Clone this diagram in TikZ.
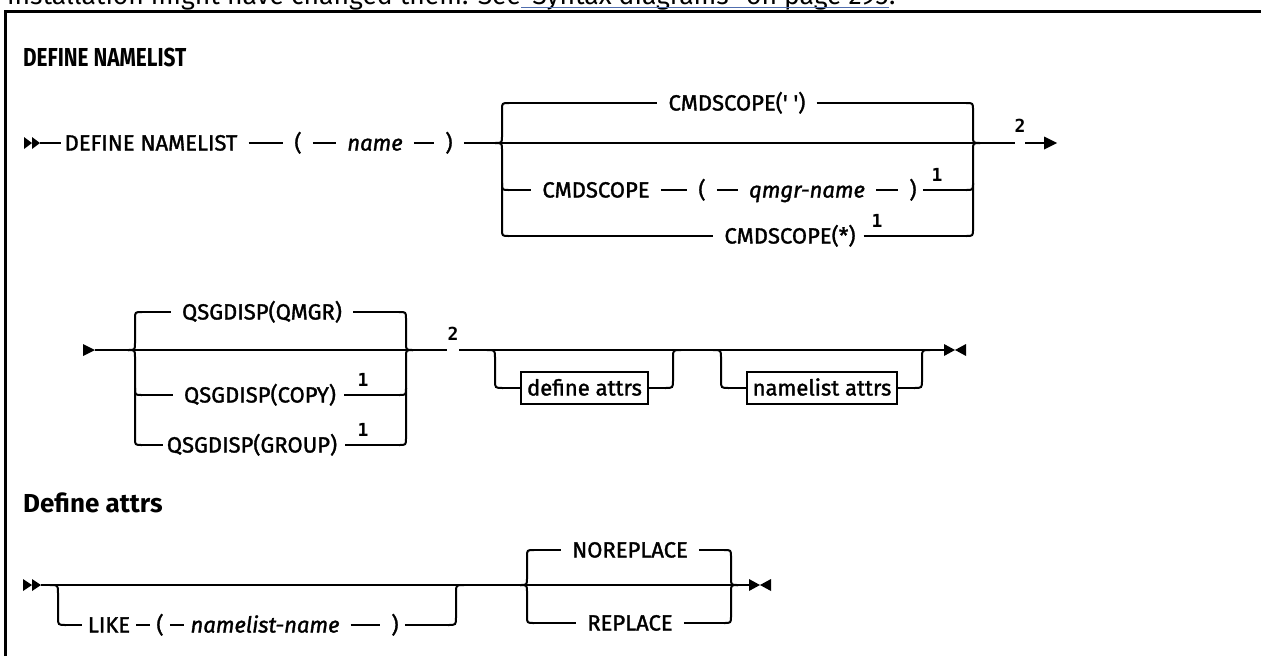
\documentclass[tikz,border=0pt]{standalone}
\usepackage{fontspec}
\setmainfont{Fira Sans}
\newfontfamily\diagfont{Fira Sans}[FakeBold=1.5]
\newfontfamily\notefont{DejaVu Sans Mono}
\definecolor{linkblue}{RGB}{80,110,175}
% left brace: cusp x, rail y, top y, bottom y
\newcommand\railLB[4]{%
 \draw[rail] (#1,#2) .. controls ({#1+7},#2) .. ({#1+7},{#2-7}) -- ({#1+7},{#3+7}) .. controls ({#1+7},#3) .. ({#1+14},#3);
 \draw[rail] (#1,#2) .. controls ({#1+7},#2) .. ({#1+7},{#2+7}) -- ({#1+7},{#4-7}) .. controls ({#1+7},#4) .. ({#1+14},#4);}
\newcommand\railRB[4]{%
 \draw[rail] ({#1-14},#3) .. controls ({#1-7},#3) .. ({#1-7},{#3+7}) -- ({#1-7},{#2-7}) .. controls ({#1-7},#2) .. (#1,#2);
 \draw[rail] ({#1-14},#4) .. controls ({#1-7},#4) .. ({#1-7},{#4-7}) -- ({#1-7},{#2+7}) .. controls ({#1-7},#2) .. (#1,#2);}
% mid arms: vertical x, branch y
\newcommand\railLM[2]{\draw[rail] (#1,{#2-7}) .. controls (#1,#2) .. ({#1+7},#2);}
\newcommand\railRM[2]{\draw[rail] ({#1-7},#2) .. controls (#1,#2) .. (#1,{#2-7});}
% optional branch below rail: x left, x right, rail y, branch y
\newcommand\railOpt[4]{%
 \draw[rail] (#1,#3) .. controls ({#1+8},#3) .. ({#1+8},{#3+8}) -- ({#1+8},{#4-8}) .. controls ({#1+8},#4) .. ({#1+16},#4);
 \draw[rail] ({#2-16},#4) .. controls ({#2-8},#4) .. ({#2-8},{#4-8}) -- ({#2-8},{#3+8}) .. controls ({#2-8},#3) .. (#2,#3);}
\begin{document}
\begin{tikzpicture}[x=1pt,y=-1pt,
  rail/.style={line width=2pt},
  tk/.style={inner sep=0pt,text height=15pt,text depth=0pt,font=\diagfont\fontsize{22}{26}\selectfont},
  itk/.style={tk,font=\diagfont\fontsize{22}{26}\selectfont\itshape},
  fnote/.style={inner sep=0pt,anchor=base,font=\notefont\bfseries\fontsize{18}{20}\selectfont},
  attrbox/.style={draw,line width=2pt,inner xsep=6pt,inner ysep=0pt,minimum height=32pt,text height=15pt,text depth=0pt,font=\diagfont\fontsize{22}{26}\selectfont},
  hd/.style={inner sep=0pt,anchor=base west,font=\bfseries\fontsize{26}{30}\selectfont},
  toptx/.style={inner sep=0pt,anchor=base west,font=\fontsize{26.5}{30}\selectfont},
  gap/.style={shorten <=11pt,shorten >=11pt},
  gapl/.style={shorten <=11pt},
  gapr/.style={shorten >=11pt},
  sgap/.style={shorten <=6pt,shorten >=6pt},
  endmark/.style={fill=black}
]
\useasboundingbox (0,0) rectangle (1261,656);
\begin{scope}
\clip (0,0) rectangle (1261,656);
\node[toptx] (top1) at (7,4) {installation might have changed them. See\ };
\node[toptx] (top2) at (top1.base east) {“Syntax diagrams” on page 295};
\node[toptx] (top3) at (top2.base east) {.};
\end{scope}
\draw[linkblue,line width=1.2pt] (top2.base west) ++(0,3.5) coordinate (ul1) -- (top2.base east |- ul1);
% frame
\draw[line width=3pt] (5.5,656) -- (5.5,11) -- (1261,11);

% headings
\node[hd] (h1) at (23,66) {\scalebox{0.8}[1]{DEFINE NAMELIST}};
\node[hd] (h2) at (23,512) {Define attrs};

% ---------------- row 1 ----------------
\fill[endmark] (24,137) -- (32,143) -- (24,149) -- cycle;
\fill[endmark] (32,137) -- (40,143) -- (32,149) -- cycle;
\coordinate (s1) at (40,143);
\node[tk] (def) at (151,143) {DEFINE NAMELIST};
\node[tk] (lp1) at (298,143) {(};
\node[itk] (nm) at (375,143) {name};
\node[tk] (rp1) at (449,143) {)};
\draw[rail,shorten >=3pt] (s1) -- (def.west);
\draw[rail,gap] (def.east) -- (lp1.west);
\draw[rail,gap] (lp1.east) -- (nm.west);
\draw[rail,gap] (nm.east) -- (rp1.west);
\coordinate (R1c) at (980,143);
\draw[rail,gapl] (rp1.east) -- (R1c);
\railLB{495}{143}{103}{236}
\railLM{502}{190}
\railRB{980}{143}{103}{236}
\railRM{973}{190}
\coordinate (L1t) at (509,103); \coordinate (L1m) at (509,190); \coordinate (L1b) at (509,236);
\coordinate (R1t) at (966,103); \coordinate (R1m) at (966,190); \coordinate (R1b) at (966,236);
\node[tk] (c0) at (737,103) {CMDSCOPE(\char"27\ \char"27)};
\draw[rail,gapr] (L1t) -- (c0.west);
\draw[rail,gapl] (c0.east) -- (R1t);
\node[tk] (c1) at (596,190) {CMDSCOPE};
\node[tk] (lp2) at (702,190) {(};
\node[itk] (qm) at (807,190) {qmgr-name};
\node[tk] (rp2) at (913,190) {)};
\node[fnote] (f1) at (937,181) {1};
\draw[rail,gapr] (L1m) -- (c1.west);
\draw[rail,gap] (c1.east) -- (lp2.west);
\draw[rail,gap] (lp2.east) -- (qm.west);
\draw[rail,gap] (qm.east) -- (rp2.west);
\draw[rail,shorten <=6pt] (rp2.east) -- (R1m);
\node[tk] (c2) at (790,236) {CMDSCOPE(*)};
\node[fnote] (f2) at (877,227) {1};
\draw[rail,gapr] (L1b) -- (c2.west);
\draw[rail,shorten <=8pt] (c2.east) -- (R1b);
\node[fnote] (n2a) at (1020,132) {2};
\coordinate (a1) at (1045,143);
\draw[rail] (R1c) -- (1015,143);
\draw[rail] (1025,143) -- (a1);
\fill[endmark] (1044,136.5) -- (1057,143) -- (1044,149.5) -- cycle;

% ---------------- row 2 ----------------
\fill[endmark] (83,344) -- (95,350) -- (83,356) -- cycle;
\coordinate (s2) at (95,350);
\railLB{128}{350}{312}{445}
\railLM{135}{395}
\railRB{413}{350}{312}{445}
\railRM{406}{395}
\coordinate (L2t) at (142,312); \coordinate (L2m) at (142,395); \coordinate (L2b) at (142,445);
\coordinate (R2t) at (399,312); \coordinate (R2m) at (399,395); \coordinate (R2b) at (399,445);
\node[tk] (q0) at (262,312) {QSGDISP(QMGR)};
\node[tk] (q1) at (260,395) {QSGDISP(COPY)};
\node[tk] (q2) at (252,445) {QSGDISP(GROUP)};
\node[fnote] (f3) at (363,386) {1};
\node[fnote] (f4) at (363,436) {1};
\draw[rail,gapr] (L2t) -- (q0.west);
\draw[rail,gapl] (q0.east) -- (R2t);
\draw[rail,gapr] (L2m) -- (q1.west);
\draw[rail,shorten <=8pt] (q1.east) -- (R2m);
\draw[rail,shorten >=4pt] (L2b) -- (q2.west);
\draw[rail,shorten <=8pt] (q2.east) -- (R2b);
\draw[rail] (s2) -- (447,350);
\node[fnote] (n2b) at (453,340) {2};
\coordinate (e2) at (944,350);
\draw[rail] (459,350) -- (e2);
\railOpt{487}{681}{350}{388}
\node[attrbox] (da) at (584.5,388) {define attrs};
\draw[rail] (503,388) -- (da.west);
\draw[rail] (da.east) -- (665,388);
\railOpt{713}{930}{350}{388}
\node[attrbox] (na) at (822,388) {namelist attrs};
\draw[rail] (729,388) -- (na.west);
\draw[rail] (na.east) -- (914,388);
\fill[endmark] (944,344) -- (955,350) -- (944,356) -- cycle;
\fill[endmark] (966,344) -- (955,350) -- (966,356) -- cycle;

% ---------------- row 3 ----------------
\fill[endmark] (23,579) -- (32,585) -- (23,591) -- cycle;
\fill[endmark] (32,579) -- (41,585) -- (32,591) -- cycle;
\coordinate (s3) at (41,585);
\coordinate (e3) at (749,585);
\draw[rail] (s3) -- (e3);
\railOpt{50}{464}{585}{625}
\coordinate (L3) at (66,625); \coordinate (R3) at (448,625);
\node[tk] (lk) at (109,625) {LIKE};
\node[tk] (lp3) at (160,625) {(};
\node[itk] (nn) at (265,625) {namelist-name};
\node[tk] (rp3) at (395,625) {)};
\draw[rail,shorten >=6pt] (L3) -- (lk.west);
\draw[rail,sgap] (lk.east) -- (lp3.west);
\draw[rail,sgap] (lp3.east) -- (nn.west);
\draw[rail,gap] (nn.east) -- (rp3.west);
\draw[rail,shorten <=6pt] (rp3.east) -- (R3);
\railLB{520}{585}{550}{623}
\railRB{738}{585}{550}{623}
\node[tk] (nr) at (630,550) {NOREPLACE};
\node[tk] (rpl) at (630,623) {REPLACE};
\draw[rail,gapr] (534,550) -- (nr.west);
\draw[rail,gapl] (nr.east) -- (724,550);
\draw[rail,gapr] (534,623) -- (rpl.west);
\draw[rail,gapl] (rpl.east) -- (724,623);
\fill[endmark] (749,579) -- (760,585) -- (749,591) -- cycle;
\fill[endmark] (771,579) -- (760,585) -- (771,591) -- cycle;
\end{tikzpicture}
\end{document}
